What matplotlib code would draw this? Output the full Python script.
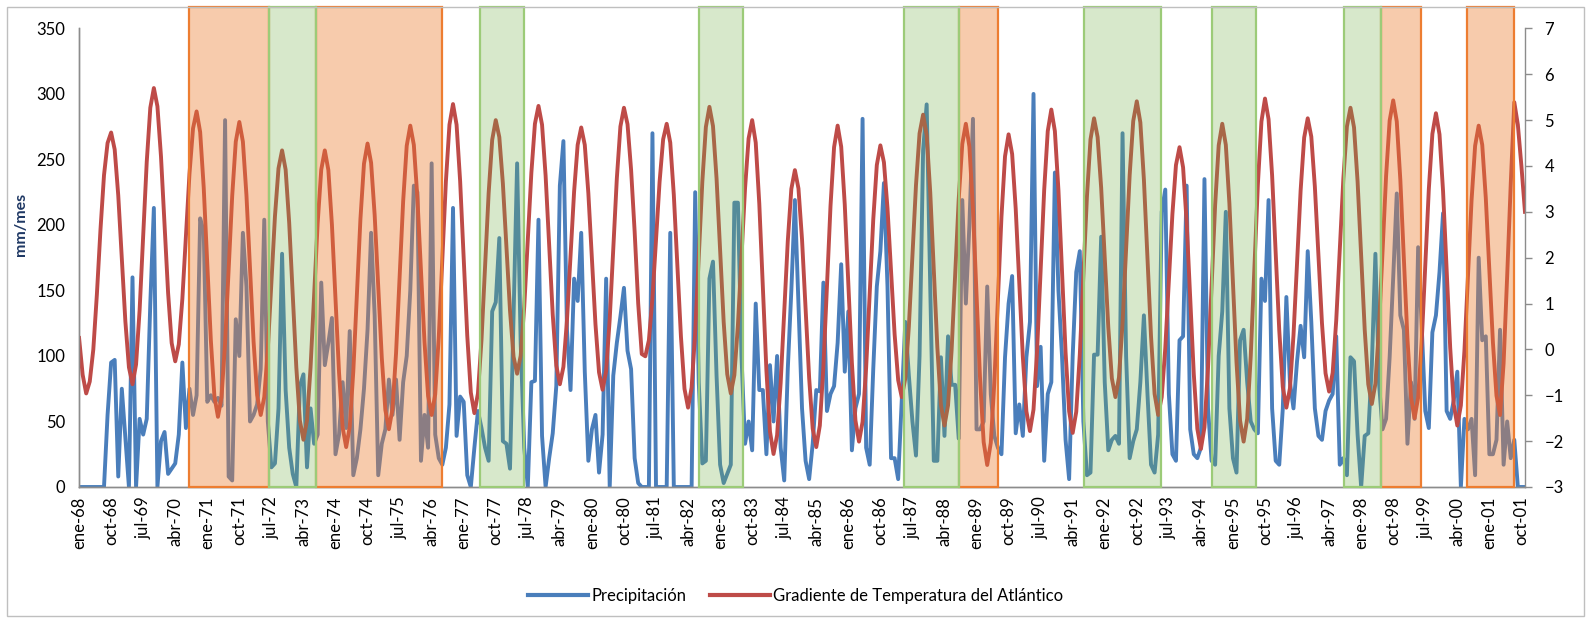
import matplotlib.pyplot as plt
from matplotlib.lines import Line2D
from matplotlib.patches import Rectangle
from matplotlib.transforms import blended_transform_factory


OUTPUT_FILE = "out.png"

FONT_FAMILY = ["Lato", "DejaVu Sans"]

BLUE = "#4A7EBB"
RED = "#BE4B48"
AXIS_GREY = "#8C8C8C"
ORANGE_EDGE = "#ED7D31"
ORANGE_FILL = (0.929, 0.490, 0.192, 0.40)
GREEN_EDGE = "#9CCB78"
GREEN_FILL = (0.439, 0.678, 0.278, 0.28)

SERIES_LABELS = [
    "Precipitación",
    "Gradiente de Temperatura del Atlántico",
]

# Monthly precipitation (mm/mes), ene-68 .. nov-01, roughly one row per year.
PRECIPITATION = [
    0, 0, 0, 0, 0, 0, 0, 0, 55, 95, 97, 8,
    75, 38, 0, 160, 0, 52, 40, 52, 140, 213, 0, 35,
    42, 10, 14, 18, 40, 95, 45, 75, 55, 70, 205, 195, 65,
    70, 65, 68, 62, 280, 8, 5, 128, 100, 194, 153, 50,
    55, 63, 90, 204, 50, 15, 18, 60, 178, 74, 30, 10,
    0, 77, 86, 15, 60, 33, 40, 156, 93, 110, 129, 25,
    40, 80, 45, 119, 9, 22, 44, 75, 120, 194, 131, 9,
    33, 44, 82, 55, 82, 36, 80, 100, 150, 230, 225, 20,
    55, 30, 247, 40, 22, 17, 30, 63, 213, 39, 69, 65,
    9, 0, 30, 58, 45, 30, 20, 134, 141, 190, 35, 33,
    14, 130, 247, 110, 30, 0, 80, 81, 204, 39, 0, 22,
    41, 77, 230, 264, 120, 74, 159, 142, 194, 88, 20, 44,
    55, 11, 40, 159, 0, 85, 110, 130, 152, 104, 90, 22,
    3, 0, 0, 0, 270, 0, 0, 0, 0, 194, 0, 0,
    0, 0, 0, 0, 225, 80, 18, 20, 159, 172, 85, 17,
    3, 10, 17, 217, 217, 100, 33, 50, 28, 140, 74, 74,
    25, 93, 50, 100, 30, 5, 90, 150, 219, 140, 60, 20,
    6, 33, 74, 73, 156, 58, 71, 77, 110, 170, 88, 134,
    28, 60, 71, 281, 30, 17, 90, 153, 180, 232, 153, 22,
    22, 6, 66, 126, 85, 50, 24, 100, 257, 292, 153, 20,
    20, 99, 39, 115, 78, 78, 37, 219, 140, 200, 281, 44,
    44, 50, 153, 71, 39, 30, 25, 99, 140, 161, 41, 63,
    39, 99, 126, 300, 77, 107, 20, 71, 80, 240, 150, 100,
    36, 6, 100, 164, 180, 50, 9, 11, 101, 101, 191, 80,
    28, 36, 39, 33, 270, 100, 22, 35, 44, 80, 131, 71,
    17, 11, 40, 210, 227, 71, 25, 20, 112, 115, 230, 44,
    25, 22, 30, 235, 60, 20, 17, 100, 134, 210, 60, 22,
    11, 112, 120, 80, 50, 44, 41, 159, 142, 219, 60, 20,
    17, 60, 145, 80, 60, 96, 123, 99, 180, 126, 60, 39,
    36, 58, 66, 71, 115, 17, 22, 9, 99, 96, 40, 0,
    39, 41, 93, 178, 80, 44, 52, 99, 160, 224, 131, 120,
    33, 80, 52, 183, 123, 58, 45, 118, 131, 164, 209, 58,
    52, 66, 88, 0, 52, 44, 52, 9, 175, 112, 115, 25,
    25, 36, 120, 17, 50, 22, 36, 0, 0, 0,
]

# Monthly Atlantic temperature gradient, same months.
GRADIENT = [
    0.25, -0.55, -0.96, -0.70, 0.00, 1.20, 2.60, 3.80, 4.50, 4.73, 4.36, 3.36, 1.99,
    0.61, -0.39, -0.76, -0.33, 0.86, 2.47, 4.09, 5.27, 5.70, 5.30, 4.21, 2.72,
    1.23, 0.14, -0.26, 0.11, 1.10, 2.47, 3.83, 4.82, 5.19, 4.74, 3.53, 1.86,
    0.20, -1.02, -1.47, -1.04, 0.14, 1.75, 3.35, 4.53, 4.96, 4.53, 3.36, 1.77,
    0.17, -1.00, -1.43, -1.04, 0.01, 1.46, 2.90, 3.95, 4.34, 3.92, 2.76, 1.19,
    -0.39, -1.55, -1.97, -1.55, -0.39, 1.19, 2.76, 3.92, 4.34, 3.91, 2.72, 1.11,
    -0.51, -1.70, -2.13, -1.69, -0.48, 1.18, 2.84, 4.05, 4.49, 4.07, 2.93, 1.38,
    -0.18, -1.32, -1.74, -1.30, -0.09, 1.57, 3.23, 4.44, 4.88, 4.46, 3.30, 1.73,
    0.15, -1.01, -1.43, -0.98, 0.27, 1.96, 3.66, 4.90, 5.35, 4.90, 3.67, 1.98,
    0.30, -0.94, -1.39, -0.96, 0.21, 1.81, 3.40, 4.57, 5.00, 4.63, 3.62, 2.24,
    0.85, -0.16, -0.53, -0.14, 0.93, 2.39, 3.85, 4.92, 5.31, 4.90, 3.79, 2.28,
    0.76, -0.35, -0.76, -0.38, 0.64, 2.04, 3.44, 4.46, 4.84, 4.46, 3.41, 1.98,
    0.55, -0.50, -0.88, -0.47, 0.66, 2.20, 3.73, 4.86, 5.27, 4.91, 3.92, 2.57,
    1.00, -0.10, -0.15, 0.20, 1.12, 2.39, 3.65, 4.58, 4.92, 4.51, 3.37, 1.83,
    0.28, -0.86, -1.27, -0.83, 0.37, 2.01, 3.65, 4.85, 5.29, 4.87, 3.73, 2.17,
    0.60, -0.54, -0.96, -0.56, 0.53, 2.02, 3.51, 4.60, 5.00, 4.51, 3.18, 1.36,
    -0.46, -1.79, -2.28, -1.87, -0.73, 0.82, 2.36, 3.50, 3.91, 3.51, 2.40, 0.89,
    -0.62, -1.73, -2.13, -1.66, -0.38, 1.38, 3.13, 4.41, 4.88, 4.42, 3.16, 1.44,
    -0.29, -1.55, -2.01, -1.58, -0.40, 1.22, 2.83, 4.02, 4.45, 4.08, 3.08, 1.71,
    0.33, -0.67, -1.04, -0.63, 0.50, 2.04, 3.58, 4.71, 5.12, 4.67, 3.43, 1.73,
    0.04, -1.21, -1.66, -1.22, -0.02, 1.63, 3.28, 4.48, 4.92, 4.42, 3.06, 1.20,
    -0.66, -2.02, -2.52, -2.04, -0.72, 1.09, 2.89, 4.21, 4.69, 4.26, 3.07, 1.46,
    -0.16, -1.35, -1.78, -1.31, -0.03, 1.73, 3.48, 4.76, 5.23, 4.76, 3.47, 1.71,
    -0.06, -1.35, -1.82, -1.36, -0.11, 1.61, 3.33, 4.58, 5.04, 4.63, 3.52, 2.00,
    0.48, -0.63, -1.04, -0.61, 0.57, 2.19, 3.80, 4.98, 5.41, 4.95, 3.70, 1.99,
    0.28, -0.97, -1.43, -1.04, 0.03, 1.49, 2.95, 4.02, 4.41, 3.97, 2.77, 1.12,
    -0.53, -1.73, -2.17, -1.70, -0.40, 1.38, 3.15, 4.45, 4.92, 4.46, 3.19, 1.46,
    -0.28, -1.55, -2.01, -1.51, -0.14, 1.73, 3.60, 4.97, 5.47, 5.02, 3.79, 2.10,
    0.42, -0.82, -1.27, -0.85, 0.31, 1.89, 3.46, 4.62, 5.04, 4.64, 3.55, 2.06,
    0.57, -0.52, -0.92, -0.51, 0.63, 2.18, 3.72, 4.86, 5.27, 4.84, 3.66, 2.04,
    0.43, -0.76, -1.19, -0.75, 0.47, 2.12, 3.78, 4.99, 5.43, 4.97, 3.70, 1.97,
    0.23, -1.04, -1.50, -1.05, 0.16, 1.83, 3.49, 4.70, 5.15, 4.69, 3.45, 1.75,
    0.04, -1.20, -1.66, -1.22, -0.03, 1.61, 3.25, 4.44, 4.88, 4.46, 3.30, 1.73,
    0.15, -1.01, -1.43, -0.30, 1.60, 3.60, 5.39, 4.90, 4.00, 3.00,
]

TICK_LABELS = [
    "ene-68", "oct-68", "jul-69", "abr-70", "ene-71", "oct-71",
    "jul-72", "abr-73", "ene-74", "oct-74", "jul-75", "abr-76",
    "ene-77", "oct-77", "jul-78", "abr-79", "ene-80", "oct-80",
    "jul-81", "abr-82", "ene-83", "oct-83", "jul-84", "abr-85",
    "ene-86", "oct-86", "jul-87", "abr-88", "ene-89", "oct-89",
    "jul-90", "abr-91", "ene-92", "oct-92", "jul-93", "abr-94",
    "ene-95", "oct-95", "jul-96", "abr-97", "ene-98", "oct-98",
    "jul-99", "abr-00", "ene-01", "oct-01",
]
TICK_STEP = 9

# Shaded periods, as (start, end) in months counted from ene-68.
ORANGE_BANDS = [
    (30.8, 53.3),
    (66.4, 101.8),
    (247.0, 257.9),
    (365.7, 376.8),
    (389.6, 403.0),
]
GREEN_BANDS = [
    (53.3, 66.4),
    (112.6, 125.0),
    (174.1, 186.3),
    (231.7, 247.0),
    (282.2, 303.7),
    (318.0, 330.6),
    (355.1, 365.7),
]

# Bands reach from the x axis up to the chart border.
BAND_TOP = 1.047


def add_bands(ax, bands, facecolor, edgecolor) -> None:
    """Draw translucent shaded periods over the lines."""

    transform = blended_transform_factory(ax.transData, ax.transAxes)

    for start, end in bands:
        ax.add_patch(
            Rectangle(
                (start, 0),
                end - start,
                BAND_TOP,
                transform=transform,
                facecolor=facecolor,
                edgecolor=edgecolor,
                linewidth=1.6,
                zorder=3,
                clip_on=False,
            )
        )


def create_chart() -> None:
    """Build the precipitation / gradient chart and save it."""

    plt.rcParams["font.family"] = FONT_FAMILY

    fig = plt.figure(figsize=(15.91, 6.23), dpi=100)
    ax = fig.add_axes([0.0497, 0.2183, 0.9088, 0.7361])
    ax2 = ax.twinx()

    ax.plot(
        range(len(PRECIPITATION)),
        PRECIPITATION,
        color=BLUE,
        linewidth=2.8,
        zorder=2,
    )
    ax2.plot(
        range(len(GRADIENT)),
        GRADIENT,
        color=RED,
        linewidth=2.8,
        zorder=2,
    )

    add_bands(ax2, ORANGE_BANDS, ORANGE_FILL, ORANGE_EDGE)
    add_bands(ax2, GREEN_BANDS, GREEN_FILL, GREEN_EDGE)

    ax.set_xlim(0, len(PRECIPITATION) - 1)
    ax.set_ylim(0, 350)
    ax.set_yticks(range(0, 351, 50))
    ax2.set_ylim(-3, 7)
    ax2.set_yticks(range(-3, 8))

    ax.set_xticks([i * TICK_STEP for i in range(len(TICK_LABELS))])
    ax.set_xticklabels(TICK_LABELS, rotation=90)

    ax.tick_params(axis="y", length=0, pad=10, labelsize=12)
    ax.tick_params(axis="x", length=0, pad=7, labelsize=12)
    ax2.tick_params(
        axis="y",
        length=5,
        width=1,
        color=AXIS_GREY,
        pad=9,
        labelsize=12,
    )

    for axis in (ax, ax2):
        axis.spines["top"].set_visible(False)
        for side in ("left", "right", "bottom"):
            axis.spines[side].set_color(AXIS_GREY)
            axis.spines[side].set_linewidth(1)
    ax.spines["right"].set_visible(False)

    fig.text(
        0.013,
        0.64,
        "mm/mes",
        rotation=90,
        ha="center",
        va="center",
        fontsize=11.5,
        fontweight="bold",
        color="#1F3864",
    )

    handles = [
        Line2D([], [], color=BLUE, linewidth=3),
        Line2D([], [], color=RED, linewidth=3),
    ]
    fig.legend(
        handles,
        SERIES_LABELS,
        loc="center",
        bbox_to_anchor=(0.5, 0.043),
        ncol=2,
        frameon=False,
        fontsize=12,
        handlelength=3.6,
        handletextpad=0.2,
        columnspacing=1.4,
    )

    # Chart area border.
    fig.add_artist(
        Rectangle(
            (7 / 1591, 1 - 616 / 623),
            1577 / 1591,
            609 / 623,
            transform=fig.transFigure,
            fill=False,
            edgecolor="#BFBFBF",
            linewidth=1,
        )
    )

    fig.savefig(OUTPUT_FILE, dpi=100)
    plt.close(fig)


def main() -> None:
    create_chart()


if __name__ == "__main__":
    main()
